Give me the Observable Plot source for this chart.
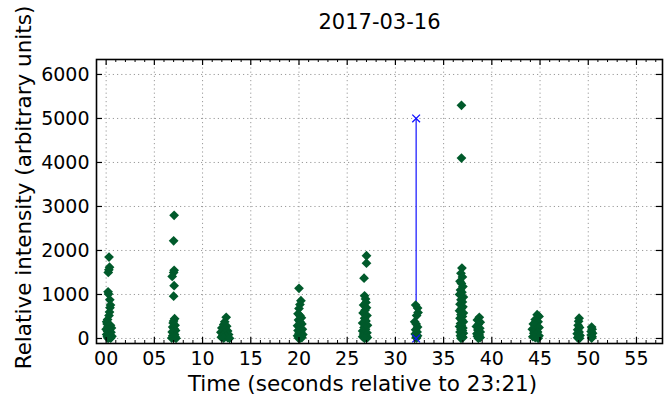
<!DOCTYPE html>
<html>
<head>
<meta charset="utf-8">
<script src="https://cdn.jsdelivr.net/npm/d3@7"></script>
<script src="https://cdn.jsdelivr.net/npm/@observablehq/plot@0.6"></script>
<style>
  html, body { margin: 0; padding: 0; background: #fff; }
  #chart svg { display: block; }
</style>
</head>
<body>
<div id="chart"></div>
<script>
// Detection times (s relative to 23:21) and relative intensities, grouped by burst
const time = [
  // burst ~0.3 s
  0.30,0.35,0.28,0.22,0.20,0.25,0.38,0.45,0.40,0.35,0.30,0.15,0.05,0.10,0.45,0.20,0.55,0.00,0.35,0.15,0.50,0.25,0.05,0.40,0.60,0.12,0.30,0.48,0.20,
  // burst ~7 s
  7.05,7.00,7.05,7.00,6.85,7.05,7.00,7.10,7.00,6.95,7.15,6.90,7.05,7.20,6.85,7.00,7.10,6.90,7.15,7.00,6.80,7.25,
  // burst ~12.3 s
  12.45,12.30,12.20,12.50,12.00,12.35,12.60,11.90,12.25,12.70,12.10,12.40,11.95,12.60,12.20,12.80,
  // burst ~20 s
  20.00,20.20,20.10,20.00,19.90,20.10,20.25,19.95,20.10,20.30,19.85,20.05,20.35,19.90,20.20,20.00,20.40,19.85,20.15,20.30,19.95,20.10,
  // burst ~26.9 s
  27.00,27.00,26.75,26.80,26.90,26.95,26.70,27.00,26.85,26.65,27.05,26.80,26.95,26.60,27.10,26.75,26.90,26.60,27.05,26.70,26.95,26.60,27.10,26.80,
  // burst ~32.2 s
  32.10,32.30,32.35,32.20,32.00,32.15,32.30,32.10,32.25,32.05,32.30,32.15,32.20,
  // burst ~36.9 s
  36.85,36.85,36.90,36.80,36.95,36.70,36.85,37.00,36.75,36.90,36.65,37.05,36.80,36.95,36.70,37.00,36.85,36.65,37.05,36.80,36.95,36.70,36.90,37.05,36.75,36.85,36.65,37.00,36.80,36.95,36.70,37.05,36.85,36.75,36.95,37.00,36.80,
  // burst ~38.6 s
  38.70,38.50,38.80,38.60,38.40,38.75,38.55,38.80,38.45,38.70,38.50,38.80,38.60,
  // burst ~44.6 s
  44.70,44.90,44.50,44.80,44.30,44.60,44.90,44.20,44.50,44.75,44.35,44.60,44.90,44.25,44.50,44.80,
  // burst ~49 s
  49.05,49.00,48.95,49.10,48.90,49.05,48.85,49.15,49.00,48.90,49.10,
  // burst ~50.4 s
  50.35,50.40,50.30,50.45,50.30,50.40,50.35
];
const intensity = [
  1850,1620,1560,1500,1060,1010,880,760,700,600,520,430,380,330,300,270,240,210,190,160,140,110,90,70,50,40,20,10,5,
  2800,2220,1550,1500,1410,1200,960,450,400,350,300,260,220,180,150,120,90,60,40,20,10,5,
  480,380,320,280,240,210,170,140,120,90,70,50,30,20,10,5,
  1140,860,770,680,560,520,470,420,380,330,290,250,210,180,150,120,90,60,40,20,10,5,
  1880,1710,1370,970,900,820,760,700,640,580,520,460,400,350,300,250,210,170,130,100,70,40,20,5,
  760,690,590,520,380,330,260,200,150,100,60,30,10,
  5300,4100,1600,1480,1400,1300,1250,1180,1100,1050,1000,940,880,830,780,720,680,630,580,540,500,460,420,380,340,300,270,240,210,180,150,120,90,60,40,20,5,
  480,420,370,320,270,230,190,150,110,80,50,25,5,
  540,500,430,380,330,290,250,210,180,150,120,90,60,40,20,5,
  460,390,300,250,200,150,110,70,40,15,5,
  260,210,160,120,80,40,10
];
// Flagged event (blue)
const eventTime = [32.15, 32.15];
const eventValue = [0, 5000];

const xMajor = [0,5,10,15,20,25,30,35,40,45,50,55];
const xMinor = d3.range(0, 58).filter(d => d % 5 !== 0);
const yMajor = [0,1000,2000,3000,4000,5000,6000];

const titleText = "2017-03-16";
const xLabel = "Time (seconds relative to 23:21)";
const yLabel = "Relative intensity (arbitrary units)";

const points = time.map((t, i) => ({t, v: intensity[i]}));
const eventPts = eventTime.map((t, i) => ({t, v: eventValue[i]}));

const W = 667, H = 398, mL = 96, mR = 5, mT = 59, mB = 55;
const fw = W - mL - mR, fh = H - mT - mB;
const green = "#005a2b";

const chart = Plot.plot({
  width: W, height: H,
  marginLeft: mL, marginRight: mR, marginTop: mT, marginBottom: mB,
  style: {fontFamily: "DejaVu Sans", background: "#fff", color: "#000"},
  x: {domain: [-1, 57.7], label: null},
  y: {domain: [-114, 6340], label: null},
  marks: [
    Plot.gridX(xMajor, {stroke: "#9a9a9a", strokeOpacity: 1, strokeDasharray: "1.2,3"}),
    Plot.gridY(yMajor, {stroke: "#9a9a9a", strokeOpacity: 1, strokeDasharray: "1.2,3"}),
    Plot.ruleX(eventPts.slice(0,1), {x: "t", y1: eventPts[0].v, y2: eventPts[1].v, stroke: "#1010ff", strokeWidth: 1.2}),
    Plot.dot(points, {x: "t", y: "v", symbol: "diamond2", r: 4.4, fill: green, stroke: null}),
    Plot.dot(eventPts, {x: "t", y: "v", symbol: "times", r: 3.6, stroke: "#1010ff", strokeWidth: 1.3}),
    // ticks (inward)
    Plot.tickX(xMajor, {x: d => d, insetTop: fh - 6, stroke: "#000", strokeWidth: 1.2}),
    Plot.tickX(xMajor, {x: d => d, insetBottom: fh - 6, stroke: "#000", strokeWidth: 1.2}),
    Plot.tickX(xMinor, {x: d => d, insetTop: fh - 3, stroke: "#000", strokeWidth: 1}),
    Plot.tickX(xMinor, {x: d => d, insetBottom: fh - 3, stroke: "#000", strokeWidth: 1}),
    Plot.tickY(yMajor, {y: d => d, insetRight: fw - 6, stroke: "#000", strokeWidth: 1.2}),
    Plot.tickY(yMajor, {y: d => d, insetLeft: fw - 6, stroke: "#000", strokeWidth: 1.2}),
    Plot.axisX(xMajor, {tickSize: 0, tickPadding: 8, tickFormat: d3.format("02d"), fontSize: 19, label: null}),
    Plot.axisY(yMajor, {tickSize: 0, tickPadding: 7, tickFormat: d => String(d), fontSize: 19, label: null}),
    Plot.frame({stroke: "#000", strokeWidth: 1.6}),
    Plot.text([titleText], {frameAnchor: "top", dy: -37, fontSize: 21, lineAnchor: "middle", fill: "#000"}),
    Plot.text([xLabel], {frameAnchor: "bottom", dx: -17, dy: 41, fontSize: 21.5, textAnchor: "middle", lineAnchor: "middle", fill: "#000"}),
    Plot.text([yLabel], {frameAnchor: "left", dx: -72, dy: -14, rotate: -90, fontSize: 21.5, textAnchor: "middle", lineAnchor: "middle", fill: "#000"})
  ]
});
document.getElementById("chart").appendChild(chart);
</script>
</body>
</html>
